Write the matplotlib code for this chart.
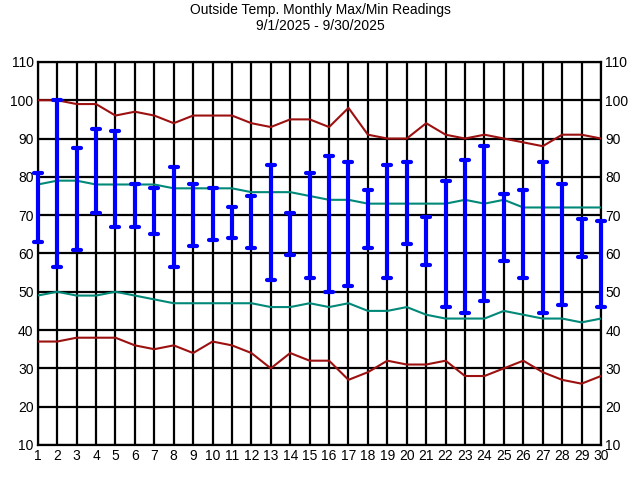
import numpy as np
import matplotlib
matplotlib.use('Agg')
import matplotlib.pyplot as plt
from matplotlib.markers import MarkerStyle

plt.rcParams['font.family'] = ['Liberation Sans', 'DejaVu Sans']

days = list(range(1, 31))

# daily readings (blue bars)
day_max = [81, 100, 87.5, 92.5, 92, 78, 77, 82.5, 78, 77, 72, 75, 83, 70.5, 81,
           85.5, 84, 76.5, 83, 84, 69.5, 79, 84.5, 88, 75.5, 76.5, 84, 78, 69, 68.5]
day_min = [63, 56.5, 61, 70.5, 67, 67, 65, 56.5, 62, 63.5, 64, 61.5, 53, 59.5, 53.5,
           50, 51.5, 61.5, 53.5, 62.5, 57, 46, 44.5, 47.5, 58, 53.5, 44.5, 46.5, 59, 46]

# record / normal lines
record_high = [100, 100, 99, 99, 96, 97, 96, 94, 96, 96, 96, 94, 93, 95, 95,
               93, 98, 91, 90, 90, 94, 91, 90, 91, 90, 89, 88, 91, 91, 90]
normal_high = [78, 79, 79, 78, 78, 78, 78, 77, 77, 77, 77, 76, 76, 76, 75,
               74, 74, 73, 73, 73, 73, 73, 74, 73, 74, 72, 72, 72, 72, 72]
normal_low = [49, 50, 49, 49, 50, 49, 48, 47, 47, 47, 47, 47, 46, 46, 47,
              46, 47, 45, 45, 46, 44, 43, 43, 43, 45, 44, 43, 43, 42, 43]
record_low = [37, 37, 38, 38, 38, 36, 35, 36, 34, 37, 36, 34, 30, 34, 32,
              32, 27, 29, 32, 31, 31, 32, 28, 28, 30, 32, 29, 27, 26, 28]

fig = plt.figure(figsize=(6.4, 4.8), dpi=100)
ax = fig.add_axes([0.059, 0.073, 0.88, 0.798])

red = '#9c1010'
teal = '#008878'
ax.plot(days, record_high, color=red, lw=1.5, zorder=3)
ax.plot(days, record_low, color=red, lw=1.5, zorder=3)
ax.plot(days, normal_high, color=teal, lw=1.5, zorder=3)
ax.plot(days, normal_low, color=teal, lw=1.5, zorder=3)

cap = MarkerStyle('_', capstyle='round')
ax.vlines(days, day_min, day_max, color='#0000ff', lw=3, zorder=4, clip_on=False)
ax.plot(days, day_max, ls='', marker=cap, ms=6, mew=3, color='#0000ff',
        zorder=5, clip_on=False)
ax.plot(days, day_min, ls='', marker=cap, ms=6, mew=3, color='#0000ff',
        zorder=5, clip_on=False)

ax.set_xlim(1, 30)
ax.set_ylim(10, 110)
ax.set_xticks(days)
ax.set_yticks(range(10, 111, 10))
ax.grid(True, color='black', lw=1.6, zorder=1)
ax.set_axisbelow(True)
for s in ax.spines.values():
    s.set_linewidth(1.6)
ax.tick_params(axis='both', length=0, labelsize=10, pad=3)
ax.tick_params(axis='y', labelright=True, right=False)

fig.suptitle('Outside Temp. Monthly Max/Min Readings\n9/1/2025 - 9/30/2025',
             fontsize=10, y=0.993, linespacing=1.15)

fig.savefig('out.png', dpi=100)
